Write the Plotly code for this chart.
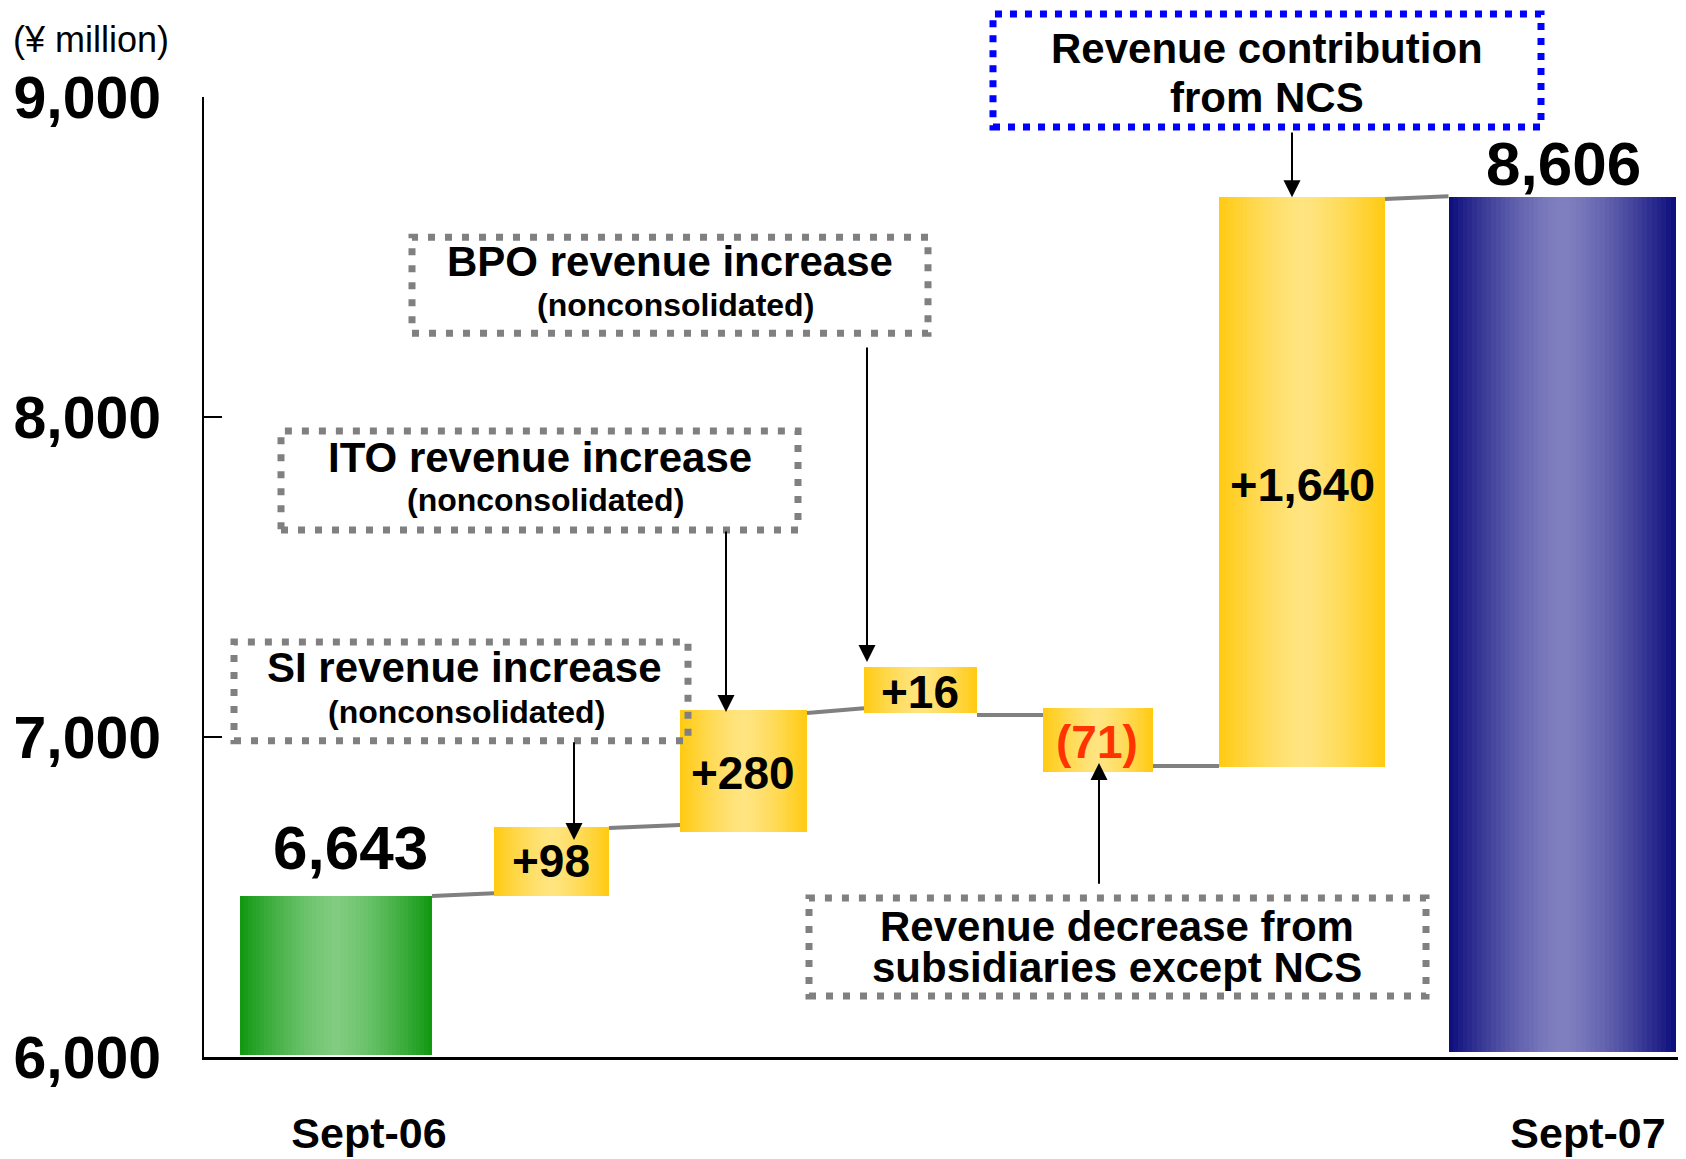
import plotly.graph_objects as go

# ---------------- data ----------------
steps = ["Sept-06", "SI revenue increase", "ITO revenue increase", "BPO revenue increase",
         "Revenue decrease from subsidiaries except NCS", "Revenue contribution from NCS", "Sept-07"]
value_labels = ["6,643", "+98", "+280", "+16", "(71)", "+1,640", "8,606"]
bar_kind = ["start", "step", "step", "step", "step", "step", "end"]
# schematic extents of every bar as drawn in the picture (¥ million)
drawn_low = [6005, 6503, 6703, 7075, 6892, 6906, 6015]
drawn_high = [6503, 6720, 7084, 7219, 7091, 8687, 8687]
# grey connector levels between consecutive bars (¥ million)
connector_from = [6503, 6716, 7075, 7069, 6909, 8681]
connector_to = [6512, 6725, 7090, 7069, 6909, 8690]
y_tick_values = [6000, 7000, 8000, 9000]
y_tick_labels = ["6,000", "7,000", "8,000", "9,000"]
x_tick_labels = ["Sept-06", "Sept-07"]
unit_label = "(¥ million)"

# ---------------- layout / style ----------------
FONT = "Liberation Sans, Arial, sans-serif"
X_RANGE = [0, 14.82]
Y_RANGE = [6000, 9000]
bar_center = [1.32, 3.475, 5.395, 7.165, 8.94, 10.98, 13.58]
bar_width = [1.92, 1.15, 1.27, 1.13, 1.10, 1.66, 2.27]
x_tick_pos = [1.65, 13.84]
label_x = [1.46, 3.47, 5.39, 7.16, 8.93, 10.98, 13.59]
label_y = [6656, 6612, 6886, 7141, 6984, 7790, 8791]
label_size = [62, 46, 46, 46, 46, 47, 62]
label_color = ["#000000", "#000000", "#000000", "#000000", "#FF3300", "#000000", "#000000"]

gradient = {
    "start": ((16, 152, 16), (128, 204, 128)),
    "step": ((255, 202, 16), (255, 228, 128)),
    "end": ((12, 12, 124), (128, 128, 192)),
}


def mix(a, b, f):
    return "rgb(%d,%d,%d)" % tuple(round(a[i] + (b[i] - a[i]) * f) for i in range(3))


fig = go.Figure()

N = 48
for k in range(N):
    t = (k + 0.5) / N
    f = 1 - abs(2 * t - 1) ** 1.4
    colors = [mix(gradient[kd][0], gradient[kd][1], f) for kd in bar_kind]
    extra = 1.0 if k == N - 1 else 1.6
    fig.add_trace(go.Bar(
        x=bar_center,
        y=[h - l for h, l in zip(drawn_high, drawn_low)],
        base=drawn_low,
        width=[w / N * extra for w in bar_width],
        offset=[-w / 2 + k * w / N for w in bar_width],
        marker=dict(color=colors, line=dict(width=0)),
        showlegend=False, hoverinfo="skip",
    ))

for i in range(len(connector_from)):
    fig.add_trace(go.Scatter(
        x=[bar_center[i] + bar_width[i] / 2, bar_center[i + 1] - bar_width[i + 1] / 2],
        y=[connector_from[i], connector_to[i]],
        mode="lines", line=dict(color="#808080", width=4),
        showlegend=False, hoverinfo="skip",
    ))

annotations = []
for lx, ly, txt, sz, col in zip(label_x, label_y, value_labels, label_size, label_color):
    annotations.append(dict(x=lx, y=ly, xref="x", yref="y", text=txt, showarrow=False,
                            font=dict(family=FONT, size=sz, color=col, weight="bold"),
                            xanchor="center", yanchor="middle"))


def xp(u):
    return (u - X_RANGE[0]) / (X_RANGE[1] - X_RANGE[0])


def yp(v):
    return (v - Y_RANGE[0]) / (Y_RANGE[1] - Y_RANGE[0])


# call-out boxes: (x0, x1, y0, y1, colour, width, dash)
boxes = [
    (0.30, 4.84, 6988, 7297, "#808080", 7, "7px,10px"),
    (0.77, 5.94, 7647, 7956, "#808080", 7, "7px,10px"),
    (2.08, 7.24, 8262, 8562, "#808080", 7, "7px,10px"),
    (6.05, 12.22, 6191, 6497, "#808080", 7, "7px,10px"),
    (7.89, 13.37, 8906, 9259, "#0000FF", 7, "7px,8px"),
]
shapes = []
for x0, x1, y0, y1, c, w, d in boxes:
    shapes.append(dict(type="rect", xref="paper", yref="paper",
                       x0=xp(x0), x1=xp(x1), y0=yp(y0), y1=yp(y1),
                       line=dict(color=c, width=w, dash=d), fillcolor="rgba(0,0,0,0)"))

# call-out texts: (x, y, text, size)
callouts = [
    (2.60, 7216, "SI revenue increase", 42),
    (2.62, 7078, "(nonconsolidated)", 32),
    (3.36, 7875, "ITO revenue increase", 42),
    (3.41, 7741, "(nonconsolidated)", 32),
    (4.66, 8487, "BPO revenue increase", 42),
    (4.71, 8350, "(nonconsolidated)", 32),
    (9.13, 6409, "Revenue decrease from", 42),
    (9.13, 6281, "subsidiaries except NCS", 42),
    (10.63, 9153, "Revenue contribution", 42),
    (10.63, 8997, "from NCS", 42),
]
for cx, cy, txt, sz in callouts:
    annotations.append(dict(x=xp(cx), y=yp(cy), xref="paper", yref="paper", text=txt,
                            showarrow=False, xanchor="center", yanchor="middle",
                            font=dict(family=FONT, size=sz, color="black", weight="bold")))

# arrows: (x, tail_y, tip_y)
arrows = [
    (3.70, 6988, 6678),
    (5.22, 7647, 7078),
    (6.63, 8222, 7234),
    (8.95, 6537, 6919),
    (10.88, 8894, 8687),
]
for ax_, tail, tip in arrows:
    annotations.append(dict(x=ax_, y=tip, ax=ax_, ay=tail, xref="x", yref="y",
                            axref="x", ayref="y", text="", showarrow=True,
                            arrowhead=2, arrowsize=1.7, arrowwidth=2, arrowcolor="black",
                            standoff=0, startstandoff=0))

annotations.append(dict(x=-0.1305, y=1.0594, xref="paper", yref="paper", text=unit_label,
                        showarrow=False, xanchor="left", yanchor="middle",
                        font=dict(family=FONT, size=36, color="black")))

# the page body adds an 8px margin; the figure is sized so it ends exactly at the window edge
fig.update_layout(
    width=1678, height=1151,
    margin=dict(l=196, r=0, t=89, b=102, pad=0),
    paper_bgcolor="white", plot_bgcolor="white",
    barmode="overlay", bargap=0,
    showlegend=False,
    annotations=annotations, shapes=shapes,
    xaxis=dict(range=X_RANGE, showline=True, linecolor="black", linewidth=3,
               showgrid=False, zeroline=False, ticks="", tickvals=x_tick_pos,
               ticktext=x_tick_labels, ticklabelstandoff=36, automargin=False,
               tickfont=dict(family=FONT, size=43, color="black", weight="bold")),
    yaxis=dict(range=Y_RANGE, showline=True, linecolor="black", linewidth=2,
               showgrid=False, zeroline=False, ticks="inside", ticklen=18, tickwidth=2,
               tickcolor="black", tickvals=y_tick_values, ticktext=y_tick_labels,
               ticklabelstandoff=29, automargin=False,
               tickfont=dict(family=FONT, size=59, color="black", weight="bold")),
)

fig.write_html("out.html")
